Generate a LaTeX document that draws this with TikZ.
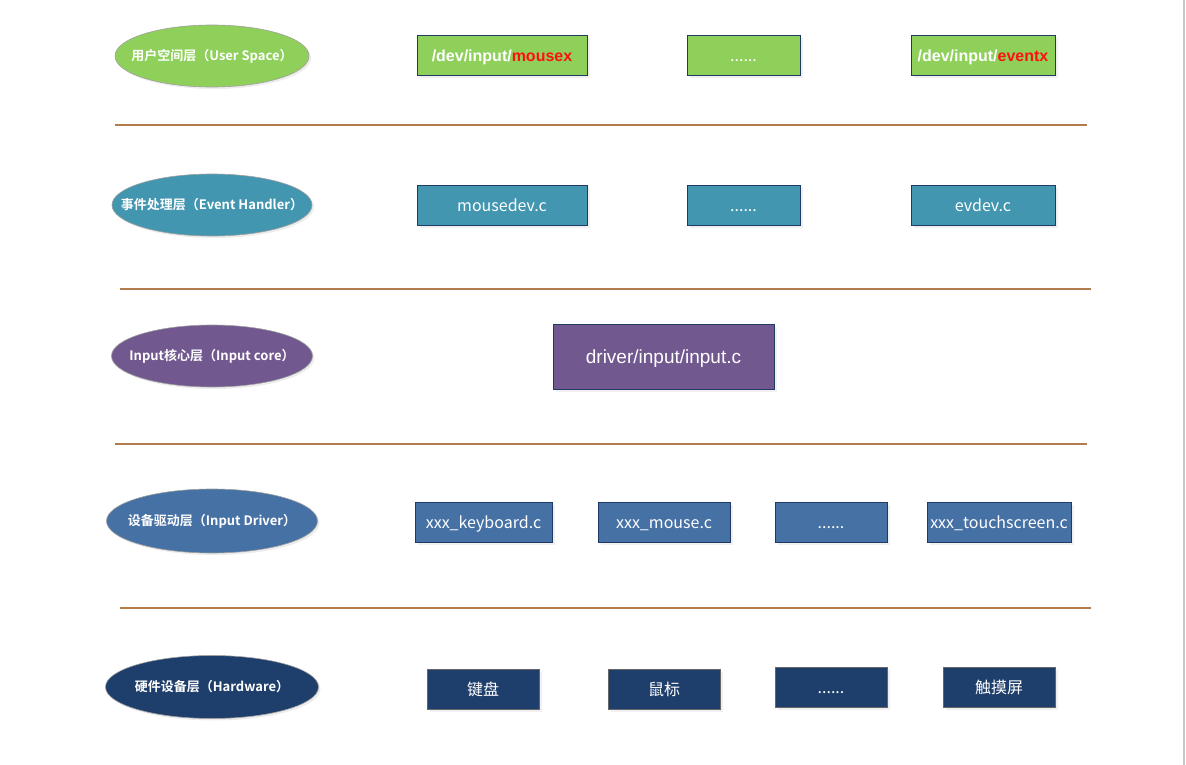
\documentclass[tikz,border=0pt]{standalone}
\usepackage{fontspec}
\setmainfont{Liberation Sans}
\newfontfamily\cjk{Noto Sans CJK SC}[BoldFont={Noto Sans CJK SC Bold}]
\usepackage{tikz}
\usetikzlibrary{shapes.geometric,shadows}
\definecolor{userGreen}{HTML}{8ED05A}
\definecolor{handlerTeal}{HTML}{4296B0}
\definecolor{corePurple}{HTML}{71588F}
\definecolor{driverBlue}{HTML}{4571A5}
\definecolor{hwNavy}{HTML}{1E3E6B}
\definecolor{boxBorder}{HTML}{1F3A66}
\definecolor{sepBrown}{HTML}{B47C4C}
\definecolor{devRed}{HTML}{FF1010}
\tikzstyle{layer}=[
  ellipse, draw=gray!75, line width=0.6pt, inner sep=0pt, minimum height=62pt,
  drop shadow={shadow xshift=2pt,shadow yshift=-2pt,opacity=0.15}
]
\tikzstyle{layertext}=[
  text=white, font=\cjk\bfseries\fontsize{13}{15}\selectfont
]
\tikzstyle{module}=[
  draw=boxBorder, line width=1pt, inner sep=0pt, minimum height=40pt,
  text height=12pt, text depth=0pt,
  text=white, font=\cjk\fontsize{16}{19}\selectfont,
  drop shadow={shadow xshift=2.5pt,shadow yshift=-2.5pt,opacity=0.12}
]
\tikzstyle{devfile}=[
  module, fill=userGreen, font=\bfseries\fontsize{16}{19}\selectfont
]
\tikzstyle{hwbox}=[
  module, fill=hwNavy, draw=gray!80!black
]
\tikzstyle{sep}=[
  draw=sepBrown, line width=2pt
]

\begin{document}
\begin{tikzpicture}[x=1pt,y=-1pt]
  \useasboundingbox (0,0) rectangle (1186,765);
  % layer names
  \node (us) at (212,56) [layer, fill=userGreen, minimum width=194pt,
    label={[layertext]center:用户空间层（User Space）}] {};
  \node (eh) at (212,205) [layer, fill=handlerTeal, minimum width=200pt,
    label={[layertext]center:事件处理层（Event Handler）}] {};
  \node (ic) at (212,356) [layer, fill=corePurple, minimum width=201pt,
    label={[layertext]center:Input核心层（Input core）}] {};
  \node (id) at (212,521) [layer, fill=driverBlue, minimum width=211pt,
    minimum height=64pt, label={[layertext]center:设备驱动层（Input Driver）}] {};
  \node (hw) at (212,687) [layer, fill=hwNavy, minimum width=213pt,
    minimum height=63pt, label={[layertext]center:硬件设备层（Hardware）}] {};

  % user space
  \node (mousex) at (502,56) [devfile, minimum width=170pt] {/dev/input/\textcolor{devRed}{mousex}};
  \node (usdots) at (743.5,56) [module, fill=userGreen, minimum width=113pt] {......};
  \node (eventx) at (983,56) [devfile, minimum width=144pt] {/dev/input/\textcolor{devRed}{eventx}};
  \draw [sep] (115,125) -- (1087,125);

  % event handler
  \node (mousedev) at (502,205) [module, fill=handlerTeal, minimum width=170pt] {mousedev.c};
  \node (ehdots) at (743.5,205) [module, fill=handlerTeal, minimum width=113pt] {......};
  \node (evdev) at (983,205) [module, fill=handlerTeal, minimum width=144pt] {evdev.c};
  \draw [sep] (120,289) -- (1091,289);

  % input core
  \node (inputc) at (663.5,356.5) [module, fill=corePurple, minimum width=221pt,
    minimum height=65pt, text height=14pt, font=\fontsize{19}{23}\selectfont] {driver/input/input.c};
  \draw [sep] (115,444) -- (1087,444);

  % input driver
  \node (kbd) at (483.5,522) [module, fill=driverBlue, minimum width=137pt] {xxx\_keyboard.c};
  \node (mouse) at (664,522) [module, fill=driverBlue, minimum width=132pt] {xxx\_mouse.c};
  \node (iddots) at (831,522) [module, fill=driverBlue, minimum width=112pt] {......};
  \node (touch) at (999,522) [module, fill=driverBlue, minimum width=144pt] {xxx\_touchscreen.c};
  \draw [sep] (120,608) -- (1091,608);

  % hardware
  \node (jianpan) at (483,689) [hwbox, minimum width=112pt] {键盘};
  \node (shubiao) at (664,689) [hwbox, minimum width=112pt] {鼠标};
  \node (hwdots) at (831,687) [hwbox, minimum width=112pt] {......};
  \node (chumo) at (999,687) [hwbox, minimum width=112pt] {触摸屏};

  % page edge
  \draw [gray!45, line width=2pt] (1184,0) -- (1184,765);
\end{tikzpicture}
\end{document}
